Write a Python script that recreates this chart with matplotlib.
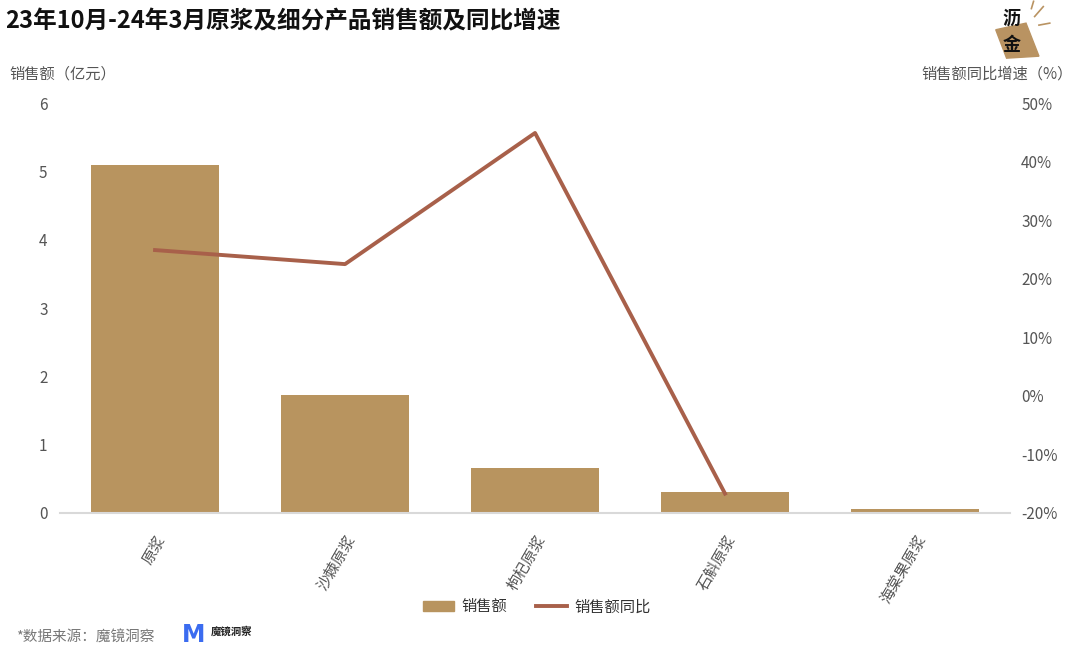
import matplotlib
matplotlib.use('Agg')
import matplotlib.pyplot as plt
import numpy as np
from matplotlib.patches import Polygon, Patch
from matplotlib.lines import Line2D

plt.rcParams['font.family'] = ['Noto Sans CJK SC', 'DejaVu Sans']

# data
categories = ['原浆', '沙棘原浆', '枸杞原浆', '石斛原浆', '海棠果原浆']
sales = [5.09, 1.73, 0.66, 0.31, 0.06]          # 亿元
yoy = [24.9, 22.5, 44.9, -16.7]                  # %, only first four
left_ticks = [0, 1, 2, 3, 4, 5, 6]
right_ticks = [-20, -10, 0, 10, 20, 30, 40, 50]

bar_color = '#B8945F'
line_color = '#A8604A'
grey = '#555555'

fig = plt.figure(figsize=(10.8, 6.61), dpi=100)
ax = fig.add_axes([0.0556, 0.224, 0.8796, 0.620])
ax2 = ax.twinx()

x = np.arange(len(categories))
ax.bar(x, sales, width=0.67, color=bar_color, zorder=2)
ax2.plot(x[:len(yoy)], yoy, color=line_color, lw=2.8, zorder=3)

ax.set_xlim(-0.5, len(categories) - 0.5)
ax.set_ylim(0, 6)
ax2.set_ylim(-20, 50)
ax.set_yticks(left_ticks)
ax.set_yticklabels([str(t) for t in left_ticks])
ax2.set_yticks(right_ticks)
ax2.set_yticklabels([f'{t}%' for t in right_ticks])

for a in (ax, ax2):
    for s in a.spines.values():
        s.set_visible(False)
    a.tick_params(length=0, labelsize=11, colors=grey)
ax.spines['bottom'].set_visible(True)
ax.spines['bottom'].set_color('#d9d9d9')
ax.spines['bottom'].set_linewidth(1.5)

ax.tick_params(axis='y', pad=9)
ax2.tick_params(axis='y', pad=8)

ax.set_xticks(x)
ax.set_xticklabels(categories, rotation=60, ha='right', va='top',
                   rotation_mode='anchor', fontsize=11, color=grey)
ax.tick_params(axis='x', pad=14)

ax.set_zorder(ax2.get_zorder() - 1)
ax2.patch.set_visible(False)

# titles
fig.text(0.005, 0.968, '23年10月-24年3月原浆及细分产品销售额及同比增速',
         fontsize=17, fontweight='bold', color='#111111', va='center')
fig.text(0.009, 0.888, '销售额（亿元）', fontsize=11, color=grey, va='center')
fig.text(0.993, 0.888, '销售额同比增速（%）', fontsize=11, color=grey,
         va='center', ha='right')

# legend
handles = [Patch(color=bar_color, label='销售额'),
           Line2D([0], [0], color=line_color, lw=2.8, label='销售额同比')]
fig.legend(handles=handles, loc='center', bbox_to_anchor=(0.497, 0.082),
           ncol=2, frameon=False, fontsize=11, handlelength=2.0,
           columnspacing=1.9, handletextpad=0.5)
for t in fig.legends[0].get_texts():
    t.set_color('#333333')

# source
fig.text(0.015, 0.035, '*数据来源：魔镜洞察', fontsize=10.5, color='#777777',
         va='center')
fig.text(0.168, 0.04, 'M', fontsize=17, fontweight='bold', color='#3B6CF0',
         va='center', ha='left', family='DejaVu Sans')
fig.text(0.195, 0.044, '魔镜洞察', fontsize=7.5, fontweight='bold',
         color='#222222', va='center')

# corner logo
logo = Polygon([[0.922, 0.955], [0.950, 0.965], [0.962, 0.915], [0.932, 0.912]],
               closed=True, transform=fig.transFigure, color='#B99362', zorder=0)
fig.patches.append(logo)
fig.text(0.937, 0.972, '沥', fontsize=13, fontweight='bold', ha='center',
         va='center', color='#111111')
fig.text(0.937, 0.932, '金', fontsize=13, fontweight='bold', ha='center',
         va='center', color='#111111')
for (x0, y0, x1, y1) in [(0.958, 0.975, 0.966, 0.99), (0.962, 0.962, 0.972, 0.965),
                         (0.955, 0.987, 0.957, 0.998)]:
    fig.add_artist(Line2D([x0, x1], [y0, y1], color='#B99362', lw=1.2,
                          transform=fig.transFigure))

fig.savefig('out.png', dpi=100, facecolor='white')
